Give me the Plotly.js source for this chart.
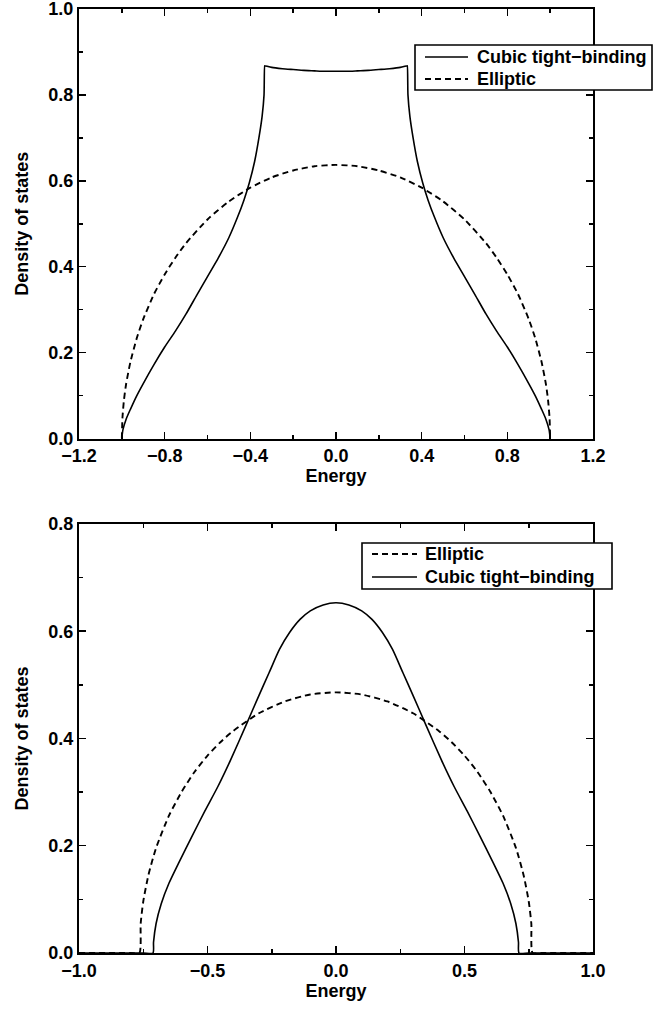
<!DOCTYPE html>
<html>
<head>
<meta charset="utf-8">
<script src="https://cdn.plot.ly/plotly-3.0.1.min.js"></script>
<style>html,body{margin:0;padding:0;background:#fff;}#chart{width:658px;height:1012px;}</style>
</head>
<body>
<div id="chart"></div>
<script>
// ---- Top panel data ----
const topCubicE = [-1.0,-0.995,-0.98,-0.96,-0.93,-0.9,-0.85,-0.8,-0.75,-0.7,-0.65,-0.6,-0.55,-0.5,-0.46,-0.43,-0.405,-0.38,-0.36,-0.345,-0.336,-0.333,-0.332,-0.3,-0.25,-0.2,-0.15,-0.1,-0.05,0.0,
  0.05,0.1,0.15,0.2,0.25,0.3,0.332,0.333,0.336,0.345,0.36,0.38,0.405,0.43,0.46,0.5,0.55,0.6,0.65,0.7,0.75,0.8,0.85,0.9,0.93,0.96,0.98,0.995,1.0];
const topCubicD = [0.0,0.02,0.045,0.068,0.10,0.128,0.172,0.213,0.25,0.29,0.334,0.377,0.42,0.468,0.515,0.555,0.595,0.645,0.70,0.75,0.80,0.868,0.868,0.864,0.861,0.859,0.857,0.856,0.855,0.855,
  0.855,0.856,0.857,0.859,0.861,0.864,0.868,0.868,0.80,0.75,0.70,0.645,0.595,0.555,0.515,0.468,0.42,0.377,0.334,0.29,0.25,0.213,0.172,0.128,0.10,0.068,0.045,0.02,0.0];
const topEllE = [-1.0,-0.997,-0.99,-0.98,-0.96,-0.93,-0.9,-0.85,-0.8,-0.75,-0.7,-0.6,-0.5,-0.4,-0.3,-0.2,-0.1,0.0,
  0.1,0.2,0.3,0.4,0.5,0.6,0.7,0.75,0.8,0.85,0.9,0.93,0.96,0.98,0.99,0.997,1.0];
const topEllD = [0.0,0.049,0.090,0.127,0.178,0.234,0.278,0.336,0.382,0.421,0.455,0.510,0.552,0.584,0.608,0.624,0.634,0.637,
  0.634,0.624,0.608,0.584,0.552,0.510,0.455,0.421,0.382,0.336,0.278,0.234,0.178,0.127,0.090,0.049,0.0];

// ---- Bottom panel data ----
const botEllE = [-1.0,-0.8,-0.765,-0.76,-0.75,-0.73,-0.7,-0.65,-0.6,-0.55,-0.5,-0.45,-0.4,-0.3,-0.2,-0.1,0.0,
  0.1,0.2,0.3,0.4,0.45,0.5,0.55,0.6,0.65,0.7,0.73,0.75,0.76,0.765,0.8,1.0];
const botEllD = [0.0,0.0,0.0,0.055,0.096,0.145,0.196,0.256,0.301,0.338,0.368,0.393,0.414,0.447,0.469,0.482,0.486,
  0.482,0.469,0.447,0.414,0.393,0.368,0.338,0.301,0.256,0.196,0.145,0.096,0.055,0.0,0.0,0.0];
const botCubE = [-1.0,-0.75,-0.712,-0.71,-0.70,-0.68,-0.65,-0.61,-0.56,-0.51,-0.46,-0.41,-0.35,-0.30,-0.26,-0.22,-0.18,-0.14,-0.1,-0.05,0.0,
  0.05,0.1,0.14,0.18,0.22,0.26,0.30,0.35,0.41,0.46,0.51,0.56,0.61,0.65,0.68,0.70,0.71,0.712,0.75,1.0];
const botCubD = [0.0,0.0,0.0,0.02,0.055,0.092,0.13,0.17,0.218,0.265,0.31,0.36,0.425,0.480,0.523,0.566,0.598,0.622,0.638,0.649,0.653,
  0.649,0.638,0.622,0.598,0.566,0.523,0.480,0.425,0.36,0.31,0.265,0.218,0.17,0.13,0.092,0.055,0.02,0.0,0.0,0.0];

const topXTicks = [-1.2,-0.8,-0.4,0.0,0.4,0.8,1.2];
const botXTicks = [-1.0,-0.5,0.0,0.5,1.0];
const topYTicks = [0.0,0.2,0.4,0.6,0.8,1.0];
const botYTicks = [0.0,0.2,0.4,0.6,0.8];

const nameCubic = 'Cubic tight\u2212binding';
const nameEll = 'Elliptic';

const FONT = 'Liberation Sans, Arial, Helvetica, sans-serif';
const TICKSIZE = 18, TITLESIZE = 18, LEGSIZE = 18;
const solid = {color:'#000', width:1.6, dash:'solid', shape:'spline', smoothing:0.6};
const dashed = {color:'#000', width:1.9, dash:'6px,4px', shape:'spline', smoothing:0.6};

const traces = [
  {x: topCubicE, y: topCubicD, type:'scatter', mode:'lines', name:nameCubic, line: solid, xaxis:'x', yaxis:'y'},
  {x: topEllE, y: topEllD, type:'scatter', mode:'lines', name:nameEll, line: dashed, xaxis:'x', yaxis:'y'},
  {x: botEllE, y: botEllD, type:'scatter', mode:'lines', name:nameEll, line: dashed, xaxis:'x2', yaxis:'y2'},
  {x: botCubE, y: botCubD, type:'scatter', mode:'lines', name:nameCubic, line: solid, xaxis:'x2', yaxis:'y2'}
];

const fmt = v => v.toFixed(1).replace('-', '\u2212');

function xax(range, ticks, minorDt, anchor, domain){
  return {
    range: range, domain: domain, anchor: anchor,
    tickmode:'array', tickvals: ticks, ticktext: ticks.map(fmt),
    ticks:'inside', ticklen:7, tickwidth:1.5, tickcolor:'#000',
    minor:{ticks:'inside', ticklen:4, tickwidth:1.5, tickcolor:'#000', dtick: minorDt, tick0: 0, showgrid:false},
    showline:true, linecolor:'#000', linewidth:2, mirror:'ticks',
    showgrid:false, zeroline:false, ticklabeloverflow:'allow',
    tickfont:{family:FONT, size:TICKSIZE, color:'#000', weight:'bold'},
    title:{text:'Energy', font:{family:FONT, size:TITLESIZE, color:'#000', weight:'bold'}, standoff:4}
  };
}
function yax(range, ticks, anchor, domain){
  return {
    range: range, domain: domain, anchor: anchor,
    tickmode:'array', tickvals: ticks, ticktext: ticks.map(fmt),
    ticks:'inside', ticklen:7, tickwidth:1.5, tickcolor:'#000',
    minor:{ticks:'inside', ticklen:4, tickwidth:1.5, tickcolor:'#000', dtick:0.1, tick0:0, showgrid:false},
    showline:true, linecolor:'#000', linewidth:2, mirror:'ticks',
    showgrid:false, zeroline:false, ticklabeloverflow:'allow',
    tickfont:{family:FONT, size:TICKSIZE, color:'#000', weight:'bold'},
    title:{text:'Density of states', font:{family:FONT, size:TITLESIZE, color:'#000', weight:'bold'}, standoff:15}
  };
}

// pixel -> paper helpers for the legend boxes (plot area: x 79..593, y 9..953)
const PX0 = 79, PW = 514, PY1 = 953, PH = 944;
const px = p => (p - PX0) / PW;
const py = p => (PY1 - p) / PH;

function legendBox(x0, x1, y0, y1, rows){
  const shapes = [{type:'rect', xref:'paper', yref:'paper', x0:px(x0), x1:px(x1), y0:py(y1), y1:py(y0),
    fillcolor:'#fff', line:{color:'#000', width:1.6}, layer:'above'}];
  const anns = [];
  rows.forEach(r => {
    shapes.push({type:'line', xref:'paper', yref:'paper', x0:px(r.lx0), x1:px(r.lx1), y0:py(r.y), y1:py(r.y),
      line:{color:'#000', width:r.dash==='solid'?1.6:1.9, dash:r.dash}, layer:'above'});
    anns.push({xref:'paper', yref:'paper', x:px(r.tx), y:py(r.y), xanchor:'left', yanchor:'middle', showarrow:false,
      text:r.text, font:{family:FONT, size:LEGSIZE, color:'#000', weight:'bold'}});
  });
  return {shapes, anns};
}

const legTop = legendBox(415, 652, 45, 90, [
  {lx0:425, lx1:468, tx:475, y:57, dash:'solid', text:nameCubic},
  {lx0:425, lx1:468, tx:475, y:79, dash:'6px,4px', text:nameEll}
]);
const legBot = legendBox(362, 612, 543, 589, [
  {lx0:372, lx1:417, tx:423, y:554, dash:'6px,4px', text:nameEll},
  {lx0:372, lx1:417, tx:423, y:577, dash:'solid', text:nameCubic}
]);

const layout = {
  width:658, height:1012,
  margin:{l:79, r:65, t:9, b:59},
  paper_bgcolor:'#fff', plot_bgcolor:'#fff',
  font:{family:FONT, color:'#000'},
  xaxis: xax([-1.2,1.2], topXTicks, 0.2, 'y', [0,1]),
  yaxis: yax([0,1.0], topYTicks, 'x', [0.545,1]),
  xaxis2: xax([-1.0,1.0], botXTicks, 0.25, 'y2', [0,1]),
  yaxis2: yax([0,0.8], botYTicks, 'x2', [0,0.4545]),
  showlegend:false,
  shapes: legTop.shapes.concat(legBot.shapes),
  annotations: legTop.anns.concat(legBot.anns)
};

Plotly.newPlot('chart', traces, layout, {displayModeBar:false, staticPlot:true});
</script>
</body>
</html>
